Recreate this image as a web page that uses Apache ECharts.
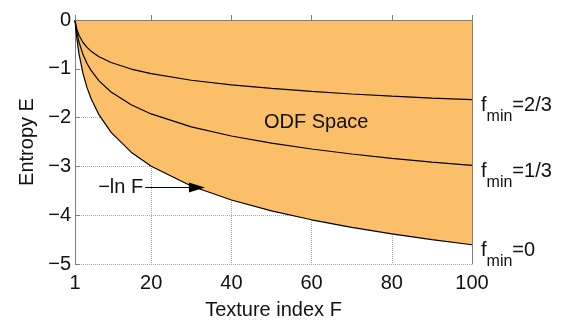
<!DOCTYPE html>
<html>
<head>
<meta charset="utf-8">
<title>ODF Space</title>
<script src="https://cdn.jsdelivr.net/npm/echarts@6/dist/echarts.min.js"></script>
<style>
  *{margin:0;padding:0;}
  body{background:#fff;}
  #main{width:568px;height:325px;}
</style>
</head>
<body>
<div id="main"></div>
<script>
// values
var fValues = [1, 1.25, 1.5, 2, 3, 4, 5, 7, 10, 15, 20, 30, 40, 50, 60, 70, 80, 90, 100];
var eMin0  = [0, -0.223, -0.405, -0.693, -1.099, -1.386, -1.609, -1.946, -2.303, -2.708, -2.996, -3.401, -3.689, -3.912, -4.094, -4.248, -4.382, -4.500, -4.605];
var eMin13 = [0, -0.148, -0.267, -0.451, -0.709, -0.891, -1.033, -1.247, -1.476, -1.738, -1.925, -2.189, -2.377, -2.524, -2.644, -2.746, -2.834, -2.912, -2.980];
var eMin23 = [0, -0.114, -0.195, -0.311, -0.461, -0.562, -0.638, -0.752, -0.871, -1.005, -1.100, -1.235, -1.330, -1.403, -1.464, -1.516, -1.560, -1.599, -1.633];
var xTicks = [1, 20, 40, 60, 80, 100];
var curveNames = ['0', '1/3', '2/3'];
var arrowFrom = [18.5, -3.43];
var arrowTo = [31.4, -3.43];

function pairs(ys) {
    var out = [];
    for (var i = 0; i < fValues.length; i++) out.push([fValues[i], ys[i]]);
    return out;
}

var font = 'Liberation Sans, Arial, sans-serif';
var txt = '#111';
var axisGray = '#808080';

function endLbl(name) {
    return {
        show: true,
        distance: 9,
        offset: [0, 6],
        formatter: '{f|f}{s|min}{f|=' + name + '}',
        rich: {
            f: {fontFamily: font, fontSize: 20, color: txt},
            s: {fontFamily: font, fontSize: 16, color: txt, padding: [22, 0, 0, 0]}
        }
    };
}

var myChart = echarts.init(document.getElementById('main'));
var option = {
    animation: false,
    textStyle: {fontFamily: font},
    grid: {left: 75, right: 96, top: 20, bottom: 54},
    xAxis: [{
        type: 'value',
        min: 1,
        max: 100,
        name: 'Texture index F',
        nameLocation: 'middle',
        nameGap: 36,
        nameTextStyle: {fontSize: 20, color: txt, fontFamily: font},
        axisLine: {lineStyle: {color: axisGray}},
        axisTick: {inside: true, length: 5, lineStyle: {color: axisGray}, customValues: xTicks},
        axisLabel: {fontSize: 20, color: txt, margin: 9, customValues: xTicks},
        splitLine: {show: true, lineStyle: {color: '#aaa', type: 'dotted'}},
        z: 0
    }, {
        type: 'value', min: 1, max: 100, position: 'top',
        axisLine: {show: true, lineStyle: {color: axisGray}},
        axisTick: {show: false}, axisLabel: {show: false}, splitLine: {show: false},
        z: 10
    }],
    yAxis: [{
        type: 'value',
        min: -5,
        max: 0,
        interval: 1,
        name: 'Entropy E',
        nameLocation: 'middle',
        nameGap: 38,
        nameTextStyle: {fontSize: 20, color: txt, fontFamily: font},
        axisLine: {show: true, lineStyle: {color: axisGray}},
        axisTick: {show: true, inside: true, length: 5, lineStyle: {color: axisGray}},
        axisLabel: {fontSize: 20, color: txt, margin: 4, formatter: function (v) { return v < 0 ? '\u2212' + (-v) : '' + v; }},
        splitLine: {show: true, lineStyle: {color: '#aaa', type: 'dotted'}},
        z: 0
    }, {
        type: 'value', min: -5, max: 0, position: 'right',
        axisLine: {show: true, lineStyle: {color: axisGray}},
        axisTick: {show: false}, axisLabel: {show: false}, splitLine: {show: false},
        z: 10
    }],
    series: [{
        type: 'line',
        data: pairs(eMin0),
        showSymbol: false,
        lineStyle: {color: '#000', width: 1.2},
        areaStyle: {color: '#fcbf69', opacity: 1, origin: 'end'},
        endLabel: endLbl(curveNames[0]),
        markLine: {
            silent: true,
            symbol: ['none', 'triangle'],
            symbolSize: [10, 16],
            lineStyle: {color: '#000', width: 1, type: 'solid'},
            label: {show: true, position: 'start', formatter: '\u2212ln F', fontSize: 20, color: txt, fontFamily: font, distance: 2},
            data: [[{coord: arrowFrom}, {coord: arrowTo}]]
        },
        z: 3
    }, {
        type: 'line',
        data: pairs(eMin13),
        showSymbol: false,
        lineStyle: {color: '#000', width: 1.2},
        endLabel: endLbl(curveNames[1]),
        z: 4
    }, {
        type: 'line',
        data: pairs(eMin23),
        showSymbol: false,
        lineStyle: {color: '#000', width: 1.2},
        endLabel: endLbl(curveNames[2]),
        z: 4
    }],
    graphic: [{
        type: 'text',
        left: 264,
        top: 112,
        z: 20,
        style: {text: 'ODF Space', fontSize: 20, fontFamily: font, fill: txt}
    }]
};
myChart.setOption(option);
</script>
</body>
</html>
